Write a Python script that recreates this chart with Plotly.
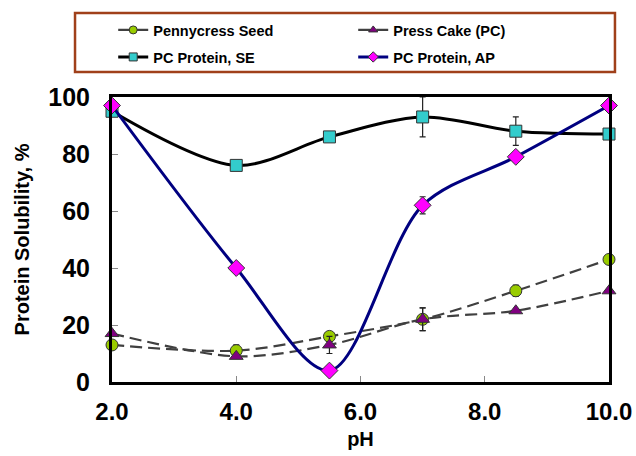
import plotly.graph_objects as go

ph = [2.0, 4.0, 5.5, 7.0, 8.5, 10.0]
seed = [13, 11, 16, 22, 32, 43]
seed_err = [0, 2, 0, 4, 2, 0]
cake = [17, 9, 13, 22, 25, 32]
cake_err = [0, 0, 3, 4, 0, 0]
se = [95, 76, 86, 93, 88, 87]
se_err = [0, 0, 0, 7, 5, 0]
ap = [97, 40, 4, 62, 79, 97]
ap_err = [0, 0, 0, 3, 0, 0]

names = ["Pennycress Seed", "Press Cake (PC)", "PC Protein, SE", "PC Protein, AP"]
x_ticks = [2.0, 4.0, 6.0, 8.0, 10.0]
y_ticks = [0, 20, 40, 60, 80, 100]

fig = go.Figure()

def add(y, err, name, lcol, dash, lw, sym, mcol, msize, legend):
    line = dict(color=lcol, width=lw, dash=dash)
    mk_line = dict(color="#333333", width=1)
    fig.add_trace(go.Scatter(
        x=ph, y=y, name=name, mode="lines+markers", showlegend=False,
        line=dict(line, shape="spline", smoothing=0.9),
        marker=dict(symbol=sym, color=mcol, size=msize, line=mk_line),
        error_y=dict(type="data", array=err, visible=True, color="#222222", thickness=1.2, width=3),
        cliponaxis=False,
    ))
    # legend entry with smaller marker, as in the reference legend
    fig.add_trace(go.Scatter(
        x=[None], y=[None], name=name, mode="lines+markers", legend=legend,
        line=line, marker=dict(symbol=sym, color=mcol, size=8, line=mk_line),
    ))

add(seed, seed_err, names[0], "#404040", "12px,6px", 2.2, "circle", "#99CC00", 12, "legend")
add(cake, cake_err, names[1], "#404040", "12px,6px", 2.2, "triangle-up", "#800080", 12, "legend")
add(se, se_err, names[2], "#000000", "solid", 3, "square", "#33CCCC", 12, "legend2")
add(ap, ap_err, names[3], "#000080", "solid", 3, "diamond", "#FF00FF", 13, "legend2")

leg_common = dict(
    orientation="h", xref="container", yref="container",
    xanchor="left", yanchor="middle",
    entrywidth=195, entrywidthmode="pixels",
    font=dict(size=14.5, family="Liberation Sans, Arial", weight="bold", color="black"),
    bgcolor="rgba(0,0,0,0)", borderwidth=0,
)

fig.update_layout(
    width=636, height=456,
    margin=dict(l=112, r=27, t=97, b=74, autoexpand=False),
    plot_bgcolor="white", paper_bgcolor="white",
    font=dict(family="Liberation Sans, Arial", color="black"),
    legend=dict(leg_common, x=0.178, y=1 - 30 / 456),
    legend2=dict(leg_common, x=0.178, y=1 - 57 / 456),
    shapes=[dict(type="rect", xref="paper", yref="paper",
                 x0=-0.0744, x1=1.012, y0=1.0877, y1=1.2947,
                 line=dict(color="#A0401A", width=2.5))],
    xaxis=dict(
        range=[2, 10], tickvals=x_ticks, tickformat=".1f",
        showgrid=False, zeroline=False,
        showline=True, linecolor="black", linewidth=3, mirror=True,
        ticks="inside", ticklen=6, tickcolor="#888888", tickwidth=1,
        tickfont=dict(size=24, weight="bold"), ticklabelstandoff=6,
        title=dict(text="pH", font=dict(size=20, weight="bold"), standoff=9),
    ),
    yaxis=dict(
        range=[0, 100], tickvals=y_ticks,
        showgrid=False, zeroline=False,
        showline=True, linecolor="black", linewidth=3, mirror=True,
        ticks="inside", ticklen=6, tickcolor="#888888", tickwidth=1,
        tickfont=dict(size=25, weight="bold"), ticklabelstandoff=14,
        title=dict(text="Protein Solubility, %", font=dict(size=20, weight="bold"), standoff=14),
    ),
)

fig.write_html("out.html", config={"displayModeBar": False},
               post_script="document.body.style.margin='0';")
